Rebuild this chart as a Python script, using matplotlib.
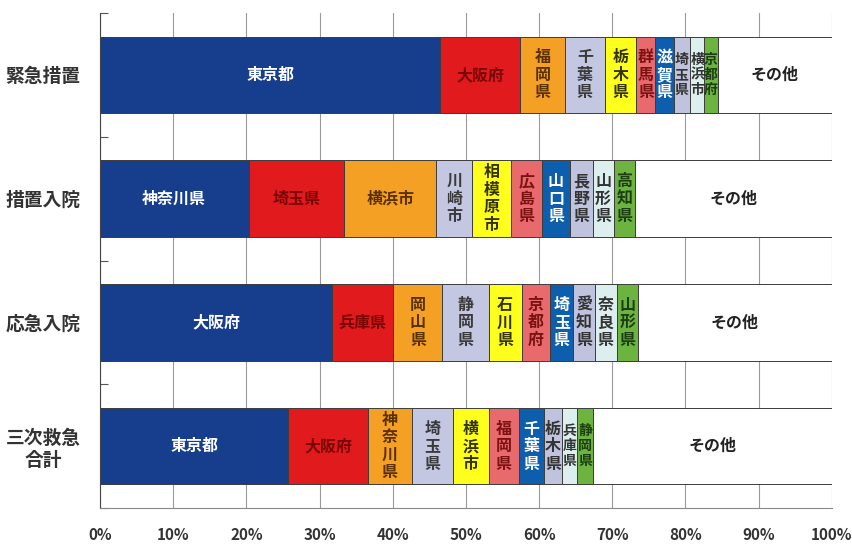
import numpy as np
import matplotlib.pyplot as plt

plt.rcParams['font.family'] = ['Noto Sans CJK JP', 'DejaVu Sans']

categories = ['緊急措置', '措置入院', '応急入院', '三次救急\n合計']

names_kinkyu = ['東京都', '大阪府', '福岡県', '千葉県', '栃木県', '群馬県', '滋賀県', '埼玉県', '横浜市', '京都府', 'その他']
share_kinkyu = [46.5, 10.9, 6.1, 5.5, 4.3, 2.6, 2.5, 2.2, 2.0, 1.8, 15.6]

names_sochi = ['神奈川県', '埼玉県', '横浜市', '川崎市', '相模原市', '広島県', '山口県', '長野県', '山形県', '高知県', 'その他']
share_sochi = [20.3, 13.1, 12.5, 5.0, 5.2, 4.3, 3.8, 3.1, 2.9, 2.9, 26.9]

names_oukyu = ['大阪府', '兵庫県', '岡山県', '静岡県', '石川県', '京都府', '埼玉県', '愛知県', '奈良県', '山形県', 'その他']
share_oukyu = [31.7, 8.4, 6.7, 6.3, 4.5, 3.9, 3.2, 2.9, 3.0, 2.9, 26.5]

names_sanji = ['東京都', '大阪府', '神奈川県', '埼玉県', '横浜市', '福岡県', '千葉県', '栃木県', '兵庫県', '静岡県', 'その他']
share_sanji = [25.7, 10.9, 6.0, 5.6, 4.9, 4.1, 3.5, 2.4, 2.1, 2.2, 32.6]

# colour by rank (1st .. 10th, then others)
rank_colors = ['#173d8d', '#e01a1d', '#f4a024', '#c4c7e1', '#ffff1e',
               '#e86a6d', '#0d5ead', '#c0c3de', '#dcefee', '#6cb43f', '#ffffff']
text_colors = ['white', '#7a0505', '#5a3000', '#3a3a3a', '#333300',
               '#7a1212', 'white', '#333333', '#333333', '#1c3d12', '#222222']

rows = [(names_kinkyu, share_kinkyu), (names_sochi, share_sochi),
        (names_oukyu, share_oukyu), (names_sanji, share_sanji)]

fig = plt.figure(figsize=(8.53, 5.45), dpi=100)
ax = fig.add_axes([0.1172, 0.068, 0.858, 0.908])

for i, (names, shares) in enumerate(rows):
    shares = np.array(shares)
    total = shares.sum()
    pct = shares / total * 100
    lefts = np.concatenate([[0], np.cumsum(pct)[:-1]])
    ax.barh(i, pct, left=lefts, height=0.62, color=rank_colors,
            edgecolor='#3c3c3c', linewidth=0.7, zorder=2)
    for j, (name, w, l) in enumerate(zip(names, pct, lefts)):
        label = name if w >= 8 else '\n'.join(name)
        size = 11.5 if w >= 2.4 else 10
        ax.text(l + w / 2, i, label, ha='center', va='center',
                fontsize=size, fontweight='bold', color=text_colors[j],
                linespacing=1.12, zorder=3)

ax.set_xlim(0, 100)
ax.set_ylim(3.5, -0.5)
ax.set_xticks(np.arange(0, 101, 10))
ax.set_xticklabels([f'{v}%' for v in range(0, 101, 10)])
ax.tick_params(axis='x', length=0, pad=14, labelsize=11, labelcolor='#333333')
for lab in ax.get_xticklabels():
    lab.set_fontweight('bold')
ax.xaxis.grid(True, color='#9a9a9a', linewidth=0.8, zorder=0)

# category boundaries as small inward ticks, labels at the centres
ax.set_yticks(np.arange(-0.5, 4, 1))
ax.set_yticklabels([])
ax.tick_params(axis='y', which='major', direction='in', length=6, color='#555555')
ax.set_yticks(np.arange(4), minor=True)
ax.set_yticklabels(categories, minor=True)
ax.tick_params(axis='y', which='minor', length=0, pad=14, labelsize=13.5,
               labelcolor='#333333')
for lab in ax.get_yticklabels(minor=True):
    lab.set_fontweight('bold')
    lab.set_multialignment('center')

for s in ['top', 'right']:
    ax.spines[s].set_visible(False)
ax.spines['left'].set_color('#444444')
ax.spines['bottom'].set_color('#888888')

fig.savefig('out.png', dpi=100)
